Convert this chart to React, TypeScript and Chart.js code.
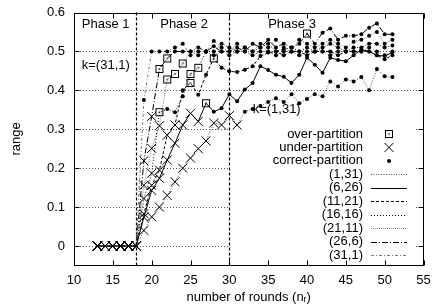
import React, { useEffect, useRef } from "react";
import { Chart, registerables } from "chart.js";

Chart.register(...registerables);

// ---------------- data ----------------
const ROUNDS = [13, 14, 15, 16, 17, 18, 19, 20, 21, 22, 23, 24, 25, 26, 27, 28, 29, 30, 31, 32, 33, 34, 35, 36, 37, 38, 39, 40, 41, 42, 43, 44, 45, 46, 47, 48, 49, 50, 51];

const SERIES_LABELS = ["(1,31)", "(6,26)", "(11,21)", "(16,16)", "(21,11)", "(26,6)", "(31,1)"];

// range values for n = 13 .. 51
const K1_31 = [0, 0, 0, 0, 0, 0, 0.04, 0.075, 0.1, 0.13, 0.165, 0.2, 0.226, 0.25, 0.27, 0.316, 0.311, 0.335, 0.311, 0.345, 0.352, 0.36, 0.37, 0.38, 0.37, 0.39, 0.367, 0.378, 0.39, 0.385, 0.423, 0.41, 0.428, 0.423, 0.434, 0.4, 0.455, 0.436, 0.434];
const K6_26 = [0, 0, 0, 0, 0, 0, 0.074, 0.143, 0.174, 0.221, 0.264, 0.311, 0.341, 0.32, 0.367, 0.345, 0.354, 0.39, 0.372, 0.402, 0.419, 0.462, 0.452, 0.44, 0.435, 0.419, 0.44, 0.484, 0.466, 0.445, 0.484, 0.478, 0.475, 0.49, 0.505, 0.5, 0.49, 0.488, 0.497];
const K11_21 = [0, 0, 0, 0, 0, 0, 0.083, 0.156, 0.195, 0.285, 0.311, 0.4, 0.419, 0.389, 0.44, 0.482, 0.458, 0.449, 0.447, 0.453, 0.462, 0.488, 0.497, 0.5, 0.49, 0.5, 0.5, 0.49, 0.5, 0.5, 0.5, 0.49, 0.5, 0.5, 0.5, 0.5, 0.49, 0.48, 0.49];
const K16_16 = [0, 0, 0, 0, 0, 0, 0.122, 0.187, 0.344, 0.352, 0.344, 0.385, 0.442, 0.458, 0.5, 0.5, 0.52, 0.51, 0.5, 0.51, 0.5, 0.51, 0.52, 0.5, 0.505, 0.51, 0.5, 0.51, 0.5, 0.51, 0.52, 0.51, 0.5, 0.51, 0.51, 0.52, 0.52, 0.51, 0.515];
const K21_11 = [0, 0, 0, 0, 0, 0, 0.156, 0.251, 0.309, 0.428, 0.442, 0.469, 0.5, 0.49, 0.5, 0.527, 0.51, 0.5, 0.52, 0.51, 0.5, 0.52, 0.51, 0.53, 0.51, 0.5, 0.53, 0.52, 0.51, 0.52, 0.53, 0.52, 0.51, 0.525, 0.53, 0.54, 0.55, 0.52, 0.53];
const K26_6 = [0, 0, 0, 0, 0, 0, 0.219, 0.333, 0.455, 0.482, 0.5, 0.5, 0.5, 0.51, 0.5, 0.513, 0.5, 0.5, 0.51, 0.5, 0.52, 0.51, 0.53, 0.51, 0.52, 0.51, 0.52, 0.546, 0.52, 0.548, 0.559, 0.53, 0.54, 0.54, 0.544, 0.561, 0.572, 0.544, 0.544];
const K31_1 = [0, 0, 0, 0, 0, 0, 0.375, 0.5, 0.5, 0.5, 0.51, 0.52, 0.49, 0.5, 0.5, 0.49, 0.5, 0.49, 0.5, 0.5, 0.49, 0.5, 0.5, 0.49, 0.5, 0.5, 0.49, 0.5, 0.5, 0.5, 0.49, 0.5, 0.5, 0.5, 0.5, 0.51, 0.5, 0.49, 0.5];

// partition result per point: u = under, o = over, c = correct
const P1_31 = "uuuuuuuuuuuuuuuuuuucccccccccccccccccccc";
const P6_26 = "uuuuuuuuuuuuuuoccccccccccccccccccccccccc".slice(0, 39);
const P11_21 = "uuuuuuuuuuucoccocccccccccccccccccccccccc".slice(0, 39);
const P16_16 = "uuuuuuuuocccoocccccccccccccccccccccccccc".slice(0, 39);
const P21_11 = "uuuuuuuuuooocccccccccccccccccccccccccccc".slice(0, 39);
const P26_6 = "uuuuuuuuoocccccccccccccccccoccccccccccc";
const P31_1 = "uuuuuucccccccccccccccccccccccccccccccccc".slice(0, 39);

const SERIES_VALUES = [K1_31, K6_26, K11_21, K16_16, K21_11, K26_6, K31_1];
const SERIES_PARTS = [P1_31, P6_26, P11_21, P16_16, P21_11, P26_6, P31_1];

const X_TICKS = [10, 15, 20, 25, 30, 35, 40, 45, 50, 55];
const Y_TICKS = [0, 0.1, 0.2, 0.3, 0.4, 0.5, 0.6];
const Y_TICK_LABELS = ["0", "0.1", "0.2", "0.3", "0.4", "0.5", "0.6"];
const PHASE_BOUNDS = [18, 30];
const PHASE_LABELS = ["Phase 1", "Phase 2", "Phase 3"];
const PHASE_LABEL_X = [11, 21.1, 35];
const PHASE_LABEL_Y = 0.57;
const MARKER_LABELS = ["over-partition", "under-partition", "correct-partition"];
const K_NOTES = ["k=(31,1)", "k=(1,31)"];
const K_NOTE_X = [11, 33];
const K_NOTE_Y = [0.465, 0.35];

// ---------------- styles ----------------
const FONT = "13px 'Liberation Sans', Arial, Helvetica, sans-serif";
const LINE_STYLES = [
  { color: "#555", dash: [1, 1.5] },
  { color: "#000", dash: [] },
  { color: "#000", dash: [3, 2] },
  { color: "#000", dash: [1, 2] },
  { color: "#888", dash: [1, 1] },
  { color: "#000", dash: [6, 2, 1, 2] },
  { color: "#777", dash: [3, 2, 1, 2] },
];

function makeSquare(): HTMLCanvasElement {
  const c = document.createElement("canvas");
  c.width = 10;
  c.height = 10;
  const g = c.getContext("2d")!;
  g.strokeStyle = "#000";
  g.lineWidth = 1;
  g.strokeRect(1.5, 1.5, 7, 7);
  g.fillStyle = "#000";
  g.beginPath();
  g.arc(5, 5, 0.8, 0, Math.PI * 2);
  g.fill();
  return c;
}

function drawMarker(ctx: CanvasRenderingContext2D, kind: string, x: number, y: number, sq: HTMLCanvasElement) {
  ctx.save();
  ctx.setLineDash([]);
  ctx.strokeStyle = "#000";
  ctx.fillStyle = "#000";
  ctx.lineWidth = 1;
  if (kind === "o") {
    ctx.drawImage(sq, Math.round(x - 5), Math.round(y - 5));
  } else if (kind === "u") {
    const h = 4.5;
    ctx.beginPath();
    ctx.moveTo(x - h, y - h);
    ctx.lineTo(x + h, y + h);
    ctx.moveTo(x - h, y + h);
    ctx.lineTo(x + h, y - h);
    ctx.stroke();
  } else {
    ctx.beginPath();
    ctx.arc(x, y, 2, 0, Math.PI * 2);
    ctx.fill();
  }
  ctx.restore();
}

export default function App() {
  const ref = useRef<HTMLCanvasElement | null>(null);

  useEffect(() => {
    if (!ref.current) return;
    const sq = makeSquare();

    const datasets = SERIES_VALUES.map((vals, si) => {
      const parts = SERIES_PARTS[si].split("");
      return {
        label: SERIES_LABELS[si],
        data: ROUNDS.map((n, i) => ({ x: n, y: vals[i] })),
        borderColor: LINE_STYLES[si].color,
        borderDash: LINE_STYLES[si].dash,
        borderWidth: 1,
        fill: false,
        tension: 0,
        pointStyle: parts.map((p) => (p === "o" ? sq : p === "u" ? "crossRot" : "circle")),
        pointRadius: parts.map((p) => (p === "o" ? 4 : p === "u" ? 6.4 : 2)),
        pointBorderWidth: parts.map((p) => (p === "c" ? 0 : 1)),
        pointBorderColor: "#000",
        pointBackgroundColor: "#000",
        clip: false as any,
      };
    });

    const decor = {
      id: "decor",
      beforeDatasetsDraw(chart: any) {
        const { ctx, chartArea: a, scales } = chart;
        const xs = scales.x;
        const ys = scales.y;
        ctx.save();
        ctx.lineWidth = 1;
        ctx.strokeStyle = "#555";
        ctx.setLineDash([1, 2]);
        const gapL = Math.round(xs.getPixelForValue(30)) + 1;
        const gapR = 416;
        for (const v of Y_TICKS) {
          const py = Math.round(ys.getPixelForValue(v)) + 0.5;
          ctx.beginPath();
          if (v <= 0.3) {
            ctx.moveTo(a.left, py);
            ctx.lineTo(gapL, py);
            ctx.moveTo(gapR, py);
            ctx.lineTo(a.right, py);
          } else {
            ctx.moveTo(a.left, py);
            ctx.lineTo(a.right, py);
          }
          ctx.stroke();
        }
        ctx.strokeStyle = "#000";
        ctx.setLineDash([3, 2]);
        ctx.lineWidth = 1.2;
        for (const n of PHASE_BOUNDS) {
          const px = Math.round(xs.getPixelForValue(n)) + 0.5;
          ctx.beginPath();
          ctx.moveTo(px, a.bottom);
          ctx.lineTo(px, a.top);
          ctx.stroke();
        }
        ctx.restore();
      },
      afterDatasetsDraw(chart: any) {
        const { ctx, chartArea: a, scales } = chart;
        const xs = scales.x;
        const ys = scales.y;
        ctx.save();
        ctx.setLineDash([]);
        ctx.strokeStyle = "#000";
        ctx.lineWidth = 1;
        // border
        const L = Math.round(a.left) + 0.5;
        const R = Math.round(a.right) - 0.5;
        const T = Math.round(a.top) + 0.5;
        const B = Math.round(a.bottom) - 0.5;
        ctx.strokeRect(L, T, R - L, B - T);
        // ticks (inward, mirrored)
        ctx.beginPath();
        for (const n of X_TICKS) {
          const px = Math.round(xs.getPixelForValue(n)) + 0.5;
          ctx.moveTo(px, B);
          ctx.lineTo(px, B - 5);
          ctx.moveTo(px, T);
          ctx.lineTo(px, T + 5);
        }
        for (const v of Y_TICKS) {
          const py = Math.round(ys.getPixelForValue(v)) + 0.5;
          ctx.moveTo(L, py);
          ctx.lineTo(L + 5, py);
          ctx.moveTo(R, py);
          ctx.lineTo(R - 5, py);
        }
        ctx.stroke();

        // labels in plot
        ctx.font = FONT;
        ctx.fillStyle = "#000";
        ctx.textBaseline = "middle";
        ctx.textAlign = "left";
        PHASE_LABELS.forEach((t, i) => {
          ctx.fillText(t, xs.getPixelForValue(PHASE_LABEL_X[i]), ys.getPixelForValue(PHASE_LABEL_Y));
        });
        K_NOTES.forEach((t, i) => {
          ctx.fillText(t, xs.getPixelForValue(K_NOTE_X[i]), ys.getPixelForValue(K_NOTE_Y[i]));
        });

        // legend
        const textR = 363;
        const sx0 = 371;
        const sx1 = 407;
        const mx = 389;
        const y0 = 134;
        const dy = 13.45;
        ctx.textAlign = "right";
        const kinds = ["o", "u", "c"];
        MARKER_LABELS.forEach((t, i) => {
          const yy = y0 + i * dy;
          ctx.fillText(t, textR, yy);
          drawMarker(ctx, kinds[i], mx, yy, sq);
        });
        SERIES_LABELS.forEach((t, i) => {
          const yy = y0 + (i + 3) * dy;
          ctx.fillStyle = "#000";
          ctx.fillText(t, textR, yy);
          ctx.save();
          ctx.strokeStyle = LINE_STYLES[i].color;
          ctx.setLineDash(LINE_STYLES[i].dash);
          ctx.lineWidth = 1;
          const ly = Math.round(yy) + 0.5;
          ctx.beginPath();
          ctx.moveTo(sx0, ly);
          ctx.lineTo(sx1, ly);
          ctx.stroke();
          ctx.restore();
        });

        // axis titles
        ctx.textAlign = "left";
        ctx.textBaseline = "middle";
        const p1 = "number of rounds (n";
        const p2 = "r";
        const p3 = ")";
        const w1 = ctx.measureText(p1).width;
        const w3 = ctx.measureText(p3).width;
        ctx.font = "9px 'Liberation Sans', Arial, sans-serif";
        const w2 = ctx.measureText(p2).width;
        const cx = (a.left + a.right) / 2;
        const ty = 297;
        let sx = cx - (w1 + w2 + w3) / 2;
        ctx.font = FONT;
        ctx.fillText(p1, sx, ty);
        sx += w1;
        ctx.font = "9px 'Liberation Sans', Arial, sans-serif";
        ctx.fillText(p2, sx, ty + 3);
        sx += w2;
        ctx.font = FONT;
        ctx.fillText(p3, sx, ty);

        ctx.save();
        ctx.translate(16, (a.top + a.bottom) / 2);
        ctx.rotate(-Math.PI / 2);
        ctx.textAlign = "center";
        ctx.fillText("range", 0, 0);
        ctx.restore();
        ctx.restore();
      },
    };

    const chart = new Chart(ref.current, {
      type: "line",
      data: { datasets: datasets as any },
      options: {
        animation: false,
        responsive: false,
        devicePixelRatio: 1,
        layout: { padding: { left: 0, right: 8.5, top: 12.5, bottom: 0 } },
        plugins: { legend: { display: false }, tooltip: { enabled: false } },
        elements: { line: { borderWidth: 1 } },
        scales: {
          x: {
            type: "linear",
            min: 10,
            max: 55,
            afterBuildTicks: (s: any) => {
              s.ticks = X_TICKS.map((v) => ({ value: v }));
            },
            afterFit: (s: any) => {
              s.height = 40.5;
              s.paddingLeft = 0;
              s.paddingRight = 0;
            },
            ticks: {
              font: { family: "'Liberation Sans', Arial, sans-serif", size: 13 },
              color: "#000",
              padding: 7,
              maxRotation: 0,
              autoSkip: false,
              callback: (v: any) => String(v),
            },
            grid: { display: false, drawTicks: false },
            border: { display: false },
          },
          y: {
            type: "linear",
            min: -0.05,
            max: 0.6,
            afterBuildTicks: (s: any) => {
              s.ticks = Y_TICKS.map((v) => ({ value: v }));
            },
            afterFit: (s: any) => {
              s.width = 74;
              s.paddingTop = 0;
              s.paddingBottom = 0;
            },
            ticks: {
              font: { family: "'Liberation Sans', Arial, sans-serif", size: 13 },
              color: "#000",
              padding: 9,
              autoSkip: false,
              callback: (v: any) => {
                const i = Y_TICKS.findIndex((t) => Math.abs(t - v) < 1e-9);
                return i >= 0 ? Y_TICK_LABELS[i] : "";
              },
            },
            grid: { display: false, drawTicks: false },
            border: { display: false },
          },
        },
      },
      plugins: [decor],
    });
    return () => chart.destroy();
  }, []);

  return (
    <div style={{ position: "fixed", left: 0, top: 0, width: 432, height: 306, background: "#fff" }}>
      <canvas ref={ref} width={432} height={306} style={{ width: 432, height: 306, display: "block" }} />
    </div>
  );
}
